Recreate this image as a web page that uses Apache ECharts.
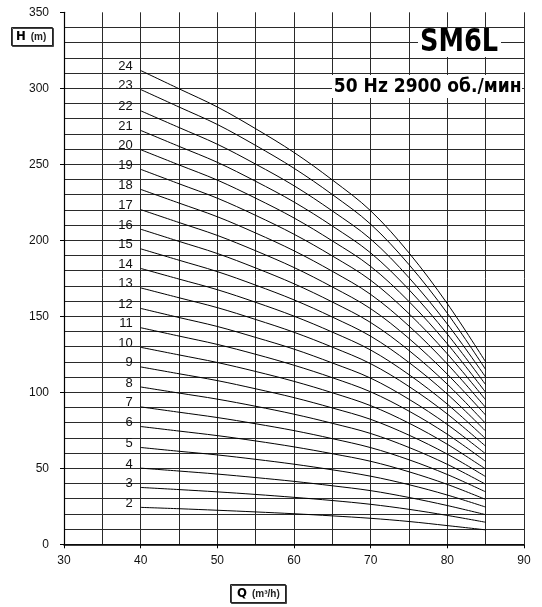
<!DOCTYPE html>
<html>
<head>
<meta charset="utf-8">
<script src="https://cdn.jsdelivr.net/npm/echarts@6/dist/echarts.min.js"></script>
<style>html,body{margin:0;padding:0;background:#fff}#c{width:542px;height:607px}</style>
</head>
<body>
<div id="c"></div>
<script>
// Flow rate points (m3/h)
const Q = [40, 45, 50, 55, 60, 65, 70, 75, 80, 85];
// Head (m) per number of stages
const H2  = [24.3, 23.4, 22.4, 21.3, 20.1, 18.7, 17.1, 15.0, 12.3, 9.5];
const H3  = [37.4, 36.0, 34.5, 32.8, 30.9, 28.8, 26.3, 23.0, 19.0, 14.5];
const H4  = [50.1, 48.2, 46.2, 43.9, 41.4, 38.5, 35.3, 30.8, 25.5, 19.5];
const H5  = [63.7, 61.2, 58.8, 55.9, 52.7, 49.0, 44.8, 39.2, 32.4, 24.5];
const H6  = [77.5, 74.5, 71.5, 68.0, 64.1, 59.6, 54.6, 47.7, 39.4, 29.5];
const H7  = [90.4, 86.9, 83.4, 79.3, 74.8, 69.5, 63.6, 55.6, 45.9, 34.5];
const H8  = [103.5, 99.5, 95.5, 90.8, 85.6, 79.6, 72.9, 63.7, 52.6, 39.5];
const H9  = [116.7, 112.2, 107.7, 102.3, 96.5, 89.7, 82.2, 71.8, 59.3, 44.5];
const H10 = [129.6, 124.6, 119.6, 113.7, 107.2, 99.7, 91.2, 79.7, 65.8, 49.5];
const H11 = [142.5, 137.0, 131.5, 125.0, 117.8, 109.6, 100.3, 87.6, 72.4, 54.5];
const H12 = [155.2, 149.2, 143.3, 136.1, 128.4, 119.3, 109.3, 95.4, 78.8, 59.5];
const H13 = [168.7, 162.2, 155.7, 147.9, 139.5, 129.7, 118.8, 103.8, 85.7, 64.5];
const H14 = [181.5, 174.5, 167.5, 159.2, 150.1, 139.6, 127.8, 111.6, 92.2, 69.5];
const H15 = [194.4, 186.9, 179.4, 170.5, 160.8, 149.5, 136.9, 119.6, 98.8, 74.5];
const H16 = [207.3, 199.3, 191.3, 181.8, 171.4, 159.4, 145.9, 127.5, 105.3, 79.5];
const H17 = [220.2, 211.7, 203.2, 193.1, 182.1, 169.3, 155.0, 135.4, 111.9, 85.0];
const H18 = [233.5, 224.5, 215.5, 204.8, 193.1, 179.6, 164.4, 143.6, 118.6, 90.0];
const H19 = [246.7, 237.2, 227.7, 216.4, 204.0, 189.7, 173.7, 151.7, 125.3, 95.0];
const H20 = [259.6, 249.6, 239.6, 227.7, 214.7, 199.6, 182.8, 159.7, 131.9, 100.0];
const H21 = [272.3, 261.8, 251.3, 238.8, 225.2, 209.4, 191.7, 167.5, 138.3, 105.0];
const H22 = [285.2, 274.2, 263.2, 250.1, 235.9, 219.3, 200.8, 175.4, 144.9, 110.0];
const H23 = [299.2, 287.7, 276.2, 262.4, 247.4, 230.1, 210.6, 184.0, 152.0, 115.0];
const H24 = [311.7, 299.7, 287.7, 273.4, 257.8, 239.7, 219.4, 191.7, 158.3, 120.0];

const stageNames = ['2','3','4','5','6','7','8','9','10','11','12','13','14','15','16','17','18','19','20','21','22','23','24'];
const stageHeads = [H2,H3,H4,H5,H6,H7,H8,H9,H10,H11,H12,H13,H14,H15,H16,H17,H18,H19,H20,H21,H22,H23,H24];

const yTickLabels = [0, 50, 100, 150, 200, 250, 300, 350];
const xTickLabels = [30, 40, 50, 60, 70, 80, 90];

const titleText = 'SM6L';
const subText = '50 Hz 2900 об./мин';

const FONT = '"Liberation Sans", Arial, sans-serif';
const COND = '"DejaVu Sans Condensed", "DejaVu Sans", sans-serif';

const series = stageHeads.map((H, i) => ({
  type: 'line',
  name: stageNames[i],
  xAxisIndex: 0,
  yAxisIndex: 0,
  smooth: 0.35,
  showSymbol: true,
  showAllSymbol: true,
  symbol: 'circle',
  symbolSize: 0,
  silent: true,
  animation: false,
  lineStyle: { color: '#000', width: 1 },
  itemStyle: { color: 'transparent' },
  label: { show: false },
  data: Q.map((q, j) => {
    const item = { value: [q, H[j]] };
    if (j === 0) {
      item.label = {
        show: true, position: 'left', distance: 8, offset: [0, -4],
        formatter: stageNames[i], color: '#111', fontSize: 13, fontFamily: FONT
      };
    }
    return item;
  })
}));

const chart = echarts.init(document.getElementById('c'), null, { renderer: 'canvas' });
chart.setOption({
  animation: false,
  backgroundColor: '#fff',
  grid: { left: 64, right: 18, top: 12.3, bottom: 62.7, containLabel: false },
  title: [
    {
      text: '{a|H} {b|(m)}', left: 11, top: 27,
      backgroundColor: '#fff', borderColor: '#222', borderWidth: 1, padding: [1, 6, 0, 5],
      shadowColor: '#444', shadowOffsetX: 1, shadowOffsetY: 1, shadowBlur: 0,
      textStyle: { rich: {
        a: { fontFamily: COND, fontWeight: 'bold', fontSize: 13, color: '#000', lineHeight: 14 },
        b: { fontFamily: FONT, fontSize: 10, color: '#222', lineHeight: 14 }
      } }
    },
    {
      text: '{a|Q} {b|(m³/h)}', left: 230, top: 584,
      backgroundColor: '#fff', borderColor: '#222', borderWidth: 1, padding: [1, 6, 0, 7],
      shadowColor: '#444', shadowOffsetX: 1, shadowOffsetY: 1, shadowBlur: 0,
      textStyle: { rich: {
        a: { fontFamily: COND, fontWeight: 'bold', fontSize: 13, color: '#000', lineHeight: 14 },
        b: { fontFamily: FONT, fontSize: 10, color: '#222', lineHeight: 14 }
      } }
    }
  ],
  graphic: [
    { type: 'rect', z: 100, silent: true, shape: { x: 418, y: 28.5, width: 83, height: 28.5 }, style: { fill: '#fff' } },
    { type: 'text', z: 101, silent: true, x: 459, y: 42.4, scaleX: 0.89,
      style: { text: titleText, font: 'bold 32px ' + COND, fill: '#000', align: 'center', verticalAlign: 'middle' } },
    { type: 'rect', z: 100, silent: true, shape: { x: 332, y: 75, width: 190, height: 23 }, style: { fill: '#fff' } },
    { type: 'text', z: 101, silent: true, x: 521.5, y: 86.3, scaleX: 0.95,
      style: { text: subText, font: 'bold 20px ' + COND, fill: '#000', align: 'right', verticalAlign: 'middle' } }
  ],
  xAxis: [
    {
      type: 'value', min: 30, max: 90, interval: 5, position: 'bottom',
      axisLine: { show: true, lineStyle: { color: '#000', width: 1.5 } },
      axisTick: { show: false }, axisLabel: { show: false },
      splitLine: { show: true, lineStyle: { color: '#2a2a2a', width: 1 } }
    },
    {
      type: 'value', min: 30, max: 90, interval: 10, position: 'bottom',
      axisLine: { show: false },
      axisTick: { show: true, length: 4, lineStyle: { color: '#000', width: 1 } },
      axisLabel: { show: true, margin: 10, color: '#111', fontSize: 12, fontFamily: FONT,
        formatter: v => xTickLabels.indexOf(v) >= 0 ? String(v) : '' },
      splitLine: { show: false }
    }
  ],
  yAxis: [
    {
      type: 'value', min: 0, max: 350, interval: 10, position: 'left',
      axisLine: { show: true, lineStyle: { color: '#000', width: 1.2 } },
      axisTick: { show: false }, axisLabel: { show: false },
      splitLine: { show: true, showMaxLine: false, lineStyle: { color: '#2a2a2a', width: 1 } }
    },
    {
      type: 'value', min: 0, max: 350, interval: 50, position: 'left',
      axisLine: { show: false },
      axisTick: { show: true, length: 4, lineStyle: { color: '#000', width: 1 } },
      axisLabel: { show: true, margin: 15, color: '#111', fontSize: 12, fontFamily: FONT,
        formatter: v => yTickLabels.indexOf(v) >= 0 ? String(v) : '' },
      splitLine: { show: false }
    }
  ],
  series: series
});
</script>
</body>
</html>
